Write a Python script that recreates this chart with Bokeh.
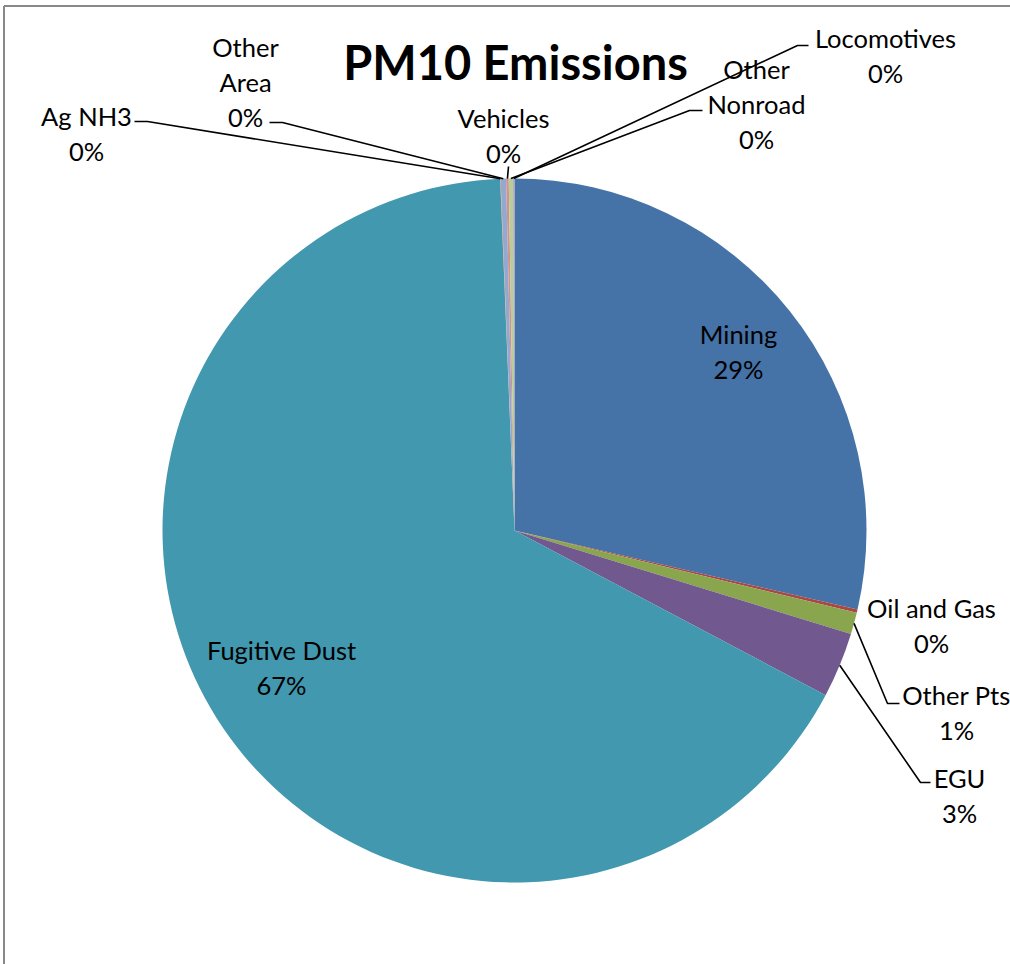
import math
from bokeh.plotting import figure
from bokeh.models import Range1d, ColumnDataSource
from bokeh.core.properties import value
from bokeh.embed import file_html
from bokeh.resources import INLINE

# ---------------- data ----------------
categories = ["Mining", "Oil and Gas", "Other Pts", "EGU", "Fugitive Dust",
              "Ag NH3", "Other Area", "Vehicles", "Other Nonroad", "Locomotives"]
shares = [28.6, 0.15, 1.0, 3.0, 66.6, 0.02, 0.25, 0.12, 0.20, 0.06]
colors = ["#4572A7", "#AA4643", "#89A54E", "#71588F", "#4198AF",
          "#DB843D", "#93A9CF", "#D19392", "#B9CD96", "#A99BBD"]
title_text = "PM10 Emissions"

# ---------------- layout (pixel-like coordinates, y downwards -> negated) ----------------
W, H = 1010, 964
CX, CY, R = 514, 530, 352
FONT = "Lato"
LABEL_SIZE = "25.5px"
LINE_GAP = 35

# label anchor: (center x, y of first line), and how the name wraps
label_layout = {
    "Mining": (738, 333, ["Mining"]),
    "Oil and Gas": (931, 607, ["Oil and Gas"]),
    "Other Pts": (956, 694, ["Other Pts"]),
    "EGU": (959, 777, ["EGU"]),
    "Fugitive Dust": (281, 649, ["Fugitive Dust"]),
    "Ag NH3": (86, 115, ["Ag NH3"]),
    "Other Area": (245, 46, ["Other", "Area"]),
    "Vehicles": (503, 117, ["Vehicles"]),
    "Other Nonroad": (756, 68, ["Other", "Nonroad"]),
    "Locomotives": (885, 37, ["Locomotives"]),
}
# leader lines: points from label side to the elbow (the slice point is computed)
leader_layout = {
    "Other Pts": [(899, 703), (887, 703)],
    "EGU": [(930, 782), (920, 782)],
    "Ag NH3": [(134, 121), (147, 121)],
    "Other Area": [(269, 122), (282, 122)],
    "Vehicles": [(508, 166)],
    "Other Nonroad": [(702, 110), (689, 110)],
    "Locomotives": [(808, 45), (797, 45)],
}

total = sum(shares)
fracs = [v / total for v in shares]
starts, ends, mids = [], [], []
cum = 0.0
for f in fracs:
    starts.append(math.pi / 2 - 2 * math.pi * cum)
    mids.append(cum + f / 2)
    cum += f
    ends.append(math.pi / 2 - 2 * math.pi * cum)

p = figure(width=W, height=H, output_backend="svg", toolbar_location=None,
           x_range=Range1d(0, W), y_range=Range1d(-H, 0),
           min_border=0, outline_line_color=None)
p.axis.visible = False
p.grid.visible = False
p.background_fill_color = "white"
p.border_fill_color = "white"

# frame lines (top and left, as in the reference)
p.segment(x0=[3.5, 3.5], y0=[-5.5, -5.5], x1=[3.5, W], y1=[-H, -5.5],
          line_color="#898989", line_width=2)

src = ColumnDataSource(dict(start=starts, end=ends, color=colors, name=categories))
p.wedge(x=CX, y=-CY, radius=R, start_angle="start", end_angle="end",
        direction="clock", fill_color="color", line_color=None, source=src)

# leader lines
xs, ys = [], []
for name, mid in zip(categories, mids):
    if name not in leader_layout:
        continue
    th = 2 * math.pi * mid
    sx = CX + R * math.sin(th)
    sy = CY - R * math.cos(th)
    pts = leader_layout[name] + [(sx, sy)]
    xs.append([q[0] for q in pts])
    ys.append([-q[1] for q in pts])
p.multi_line(xs=xs, ys=ys, line_color="black", line_width=1.6)

# labels
tx, ty, tt = [], [], []
for name, v in zip(categories, fracs):
    x0, y0, lines = label_layout[name]
    lines = lines + [f"{round(v * 100):d}%"]
    for i, s in enumerate(lines):
        tx.append(x0)
        ty.append(-(y0 + i * LINE_GAP))
        tt.append(s)
p.text(x=tx, y=ty, text=tt, text_align="center", text_baseline="middle",
       text_font=value(FONT), text_font_size=LABEL_SIZE, text_color="black")

p.text(x=[515], y=[-61], text=[title_text], text_align="center",
       text_baseline="middle", text_font=value(FONT), text_font_style="bold",
       text_font_size="47px", text_color="black")

open("out.html", "w").write(file_html(p, INLINE))
